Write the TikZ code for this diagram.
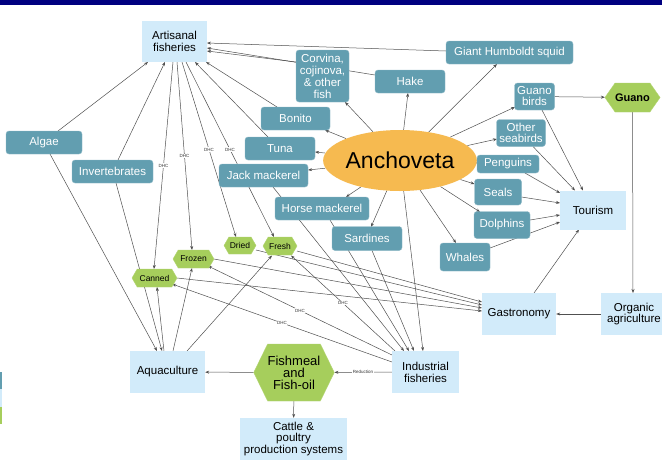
\documentclass[tikz,border=0pt]{standalone}
\usepackage{fontspec}
\setmainfont{Liberation Sans}
\usetikzlibrary{shapes.geometric,shapes.symbols,arrows.meta,calc}
\pgfdeclarelayer{bg}
\pgfsetlayers{bg,main}
\definecolor{teal1}{RGB}{98,158,176}
\definecolor{lblue}{RGB}{210,235,250}
\definecolor{lgreen}{RGB}{166,206,92}
\definecolor{orng}{RGB}{246,186,80}
\definecolor{navy1}{RGB}{0,0,128}
\definecolor{edgec}{RGB}{80,80,80}
\begin{document}
\begin{tikzpicture}[x=1pt,y=-1pt,
  tbox/.style={rectangle,rounded corners=3pt,fill=teal1,draw=teal1!70!white,line width=0.4pt,text=white,font=\fontsize{11.5}{12}\selectfont,align=center,inner sep=0pt},
  lbox/.style={rectangle,fill=lblue,text=black,font=\fontsize{11.5}{12}\selectfont,align=center,inner sep=0pt},
  hexa/.style={signal,signal to=west and east,signal pointer angle=120,fill=lgreen,draw=lgreen!85!white,inner sep=0pt,align=center},
  arr/.style={draw=edgec,line width=0.5pt,-{Stealth[length=4pt,width=3pt]}},
  lab/.style={fill=white,inner sep=0.6pt,font=\fontsize{4.5}{5}\selectfont,text=black!80},
]
\useasboundingbox (0,0) rectangle (662,469);
\fill[navy1] (0,0) rectangle (662,5);
% legend strips at the left edge
\fill[teal1] (0,372) rectangle (1.5,389);
\fill[lblue] (0,389) rectangle (1.5,407);
\fill[lgreen] (0,407) rectangle (1.5,424);

% nodes
\node[lbox,minimum width=65pt,minimum height=41pt] (art) at (174.5,41.5) {Artisanal\\fisheries};
\node[tbox,minimum width=127pt,minimum height=23pt] (squid) at (509.5,52.5) {Giant Humboldt squid};
\node[tbox,minimum width=53pt,minimum height=52pt] (corv) at (322.5,76) {Corvina,\\cojinova,\\\& other\\fish};
\node[tbox,minimum width=70pt,minimum height=23pt] (hake) at (410,81.5) {Hake};
\node[tbox,minimum width=40pt,minimum height=27pt,font=\fontsize{11.5}{11}\selectfont] (gbird) at (534.5,96.5) {Guano\\birds};
\node[hexa,minimum width=50pt,minimum height=29pt,signal pointer angle=110,font=\fontsize{11}{12}\selectfont\bfseries] (guano) at (632.5,97.5) {Guano};
\node[tbox,minimum width=49pt,minimum height=27pt,font=\fontsize{11.5}{11}\selectfont] (oseab) at (521,133) {Other\\seabirds};
\node[tbox,minimum width=69pt,minimum height=23pt] (bonito) at (295.5,118.5) {Bonito};
\node[tbox,minimum width=70pt,minimum height=23pt] (tuna) at (280,148.5) {Tuna};
\node[ellipse,fill=orng,minimum width=139pt,minimum height=61pt,inner sep=0pt,font=\fontsize{23}{26}\selectfont] (anch) at (400,160.5) {Anchoveta};
\node[tbox,minimum width=62pt,minimum height=18pt] (peng) at (508,164) {Penguins};
\node[tbox,minimum width=47pt,minimum height=26pt] (seals) at (498,192) {Seals};
\node[tbox,minimum width=56pt,minimum height=27pt] (dolph) at (502,225) {Dolphins};
\node[lbox,minimum width=66pt,minimum height=39pt] (tour) at (593,210) {Tourism};
\node[tbox,minimum width=50pt,minimum height=28pt] (whales) at (465,257) {Whales};
\node[tbox,minimum width=76pt,minimum height=23pt] (algae) at (44,142.5) {Algae};
\node[tbox,minimum width=81pt,minimum height=23pt] (invert) at (112.5,171.5) {Invertebrates};
\node[tbox,minimum width=89pt,minimum height=23pt] (jack) at (263.5,175.5) {Jack mackerel};
\node[tbox,minimum width=94pt,minimum height=23pt] (horse) at (322,208.5) {Horse mackerel};
\node[tbox,minimum width=70pt,minimum height=24pt] (sard) at (367,238.5) {Sardines};
\node[hexa,minimum width=32pt,minimum height=17pt,font=\fontsize{8.5}{9}\selectfont] (dried) at (240,245.5) {Dried};
\node[hexa,minimum width=34pt,minimum height=18pt,font=\fontsize{8.5}{9}\selectfont] (fresh) at (280,246) {Fresh};
\node[hexa,minimum width=41pt,minimum height=18pt,font=\fontsize{8.5}{9}\selectfont] (frozen) at (193.5,259) {Frozen};
\node[hexa,minimum width=45pt,minimum height=18pt,font=\fontsize{8.5}{9}\selectfont] (canned) at (154.5,278) {Canned};
\node[lbox,minimum width=75pt,minimum height=42pt] (aqua) at (167.5,372) {Aquaculture};
\node[hexa,minimum width=76pt,minimum height=57pt,signal pointer angle=128,font=\fontsize{13}{12}\selectfont] (fish) at (294,372.5) {Fishmeal\\and\\Fish-oil};
\node[lbox,minimum width=107pt,minimum height=42pt,font=\fontsize{11.5}{11.5}\selectfont] (cattle) at (293.5,439) {Cattle \&\\poultry\\production systems};
\node[lbox,minimum width=67pt,minimum height=42pt] (ind) at (425.5,372) {Industrial\\fisheries};
\node[lbox,minimum width=74pt,minimum height=42pt] (gastro) at (519,314) {Gastronomy};
\node[lbox,minimum width=66pt,minimum height=42pt,font=\fontsize{11.5}{11.5}\selectfont] (organ) at (634,314) {Organic\\agriculture};

\begin{pgfonlayer}{bg}
\fill[white] (0,0) rectangle (662,469);
% to artisanal fisheries
\draw[arr] ($(squid)+(-63.5,-1.5)$) -- ($(art)+(32.5,1.5)$);
\draw[arr] ($(hake)+(-35,-6.5)$) -- ($(art)+(32.5,6.5)$);
\draw[arr] ($(corv)+(-26.5,-14)$) -- ($(art)+(32.5,9.5)$);
\draw[arr] ($(bonito)+(-18.5,-11.5)$) -- ($(art)+(31.5,20.5)$);
\draw[arr] ($(tuna)+(-12,-11.5)$) -- ($(art)+(20.5,20.5)$);
\draw[arr] ($(algae)+(14,-11.5)$) -- ($(art)+(-26.5,20.5)$);
\draw[arr] ($(invert)+(5.5,-11.5)$) -- ($(art)+(-9.5,20.5)$);
% artisanal to products (DHC)
\draw[arr] ($(art)+(-1.5,20.5)$) -- node[lab,pos=0.5]{DHC} ($(canned)+(-0.5,-9)$);
\draw[arr] ($(art)+(2.5,20.5)$) -- node[lab,pos=0.5]{DHC} ($(frozen)+(-1.5,-9)$);
\draw[arr] ($(art)+(7.5,20.5)$) -- node[lab,pos=0.5]{DHC} ($(dried)+(-4,-8.5)$);
\draw[arr] ($(art)+(11.5,20.5)$) -- node[lab,pos=0.5]{DHC} ($(fresh)+(-6,-9)$);
% from anchoveta
\draw[arr] (anch) -- ($(corv)+(22.5,26)$);
\draw[arr] (anch) -- ($(hake)+(-2,11.5)$);
\draw[arr] (anch) -- ($(squid)+(-12.5,11.5)$);
\draw[arr] (anch) -- ($(gbird)+(-19.5,10.5)$);
\draw[arr] (anch) -- ($(oseab)+(-24,6)$);
\draw[arr] (anch) -- ($(peng)+(-31,-1)$);
\draw[arr] (anch) -- ($(seals)+(-23.5,-8)$);
\draw[arr] (anch) -- ($(dolph)+(-22,-13)$);
\draw[arr] (anch) -- ($(whales)+(-9,-14)$);
\draw[arr] (anch) -- ($(bonito)+(29.5,11.5)$);
\draw[arr] (anch) -- ($(tuna)+(35,3.5)$);
\draw[arr] (anch) -- ($(jack)+(44.5,-5.5)$);
\draw[arr] (anch) -- ($(horse)+(24,-11.5)$);
\draw[arr] (anch) -- ($(sard)+(4,-11.5)$);
\draw[arr] (anch) -- ($(ind)+(-2.5,-21)$);
% tourism
\draw[arr] ($(gbird)+(7.5,13.5)$) -- ($(tour)+(-10,-19.5)$);
\draw[arr] ($(oseab)+(12,13.5)$) -- ($(tour)+(-18,-19.5)$);
\draw[arr] ($(peng)+(17,9)$) -- ($(tour)+(-33,-17)$);
\draw[arr] ($(seals)+(23.5,5)$) -- ($(tour)+(-33,-7)$);
\draw[arr] ($(dolph)+(28,-5)$) -- ($(tour)+(-33,5)$);
\draw[arr] ($(whales)+(25,-9)$) -- ($(tour)+(-33,12)$);
\draw[arr] ($(gastro)+(15,-21)$) -- ($(tour)+(-14,19.5)$);
\draw[arr] (gbird) -- (guano);
\draw[arr] (guano) -- ($(organ)+(-1,-21)$);
\draw[arr] (organ) -- (gastro);
% gastronomy
\draw[arr] ($(fresh)+(17,5)$) -- ($(gastro)+(-37,-12)$);
\draw[arr] ($(dried)+(16,4.5)$) -- ($(gastro)+(-37,-9)$);
\draw[arr] ($(frozen)+(20.5,0)$) -- ($(gastro)+(-37,-6)$);
\draw[arr] ($(canned)+(22.5,0)$) -- ($(gastro)+(-37,-3)$);
% industrial
\draw[arr] ($(jack)+(9.5,11.5)$) -- ($(ind)+(-21.5,-21)$);
\draw[arr] ($(horse)+(8,11.5)$) -- ($(ind)+(-16.5,-21)$);
\draw[arr] ($(sard)+(5,12)$) -- ($(ind)+(-11.5,-21)$);
\draw[arr] ($(ind)+(-30.5,-21)$) -- node[lab,pos=0.5]{DHC} ($(fresh)+(11,9.5)$);
\draw[arr] ($(ind)+(-33.5,-17)$) -- node[lab,pos=0.5]{DHC} ($(frozen)+(14.5,7)$);
\draw[arr] ($(ind)+(-33.5,-10)$) -- node[lab,pos=0.5]{DHC} ($(canned)+(17.5,6)$);
\draw[arr] (ind) -- node[lab]{Reduction} (fish);
\draw[arr] (fish) -- (aqua);
\draw[arr] (fish) -- (cattle);
% aquaculture
\draw[arr] ($(algae)+(6,11.5)$) -- ($(aqua)+(-10.5,-21)$);
\draw[arr] ($(invert)+(3.5,11.5)$) -- ($(aqua)+(-5.5,-21)$);
\draw[arr] ($(aqua)+(-3.5,-21)$) -- ($(canned)+(2.5,9)$);
\draw[arr] ($(aqua)+(5.5,-21)$) -- ($(frozen)+(-1.5,9)$);
\draw[arr] ($(aqua)+(19.5,-21)$) -- ($(fresh)+(-8,9.5)$);
\end{pgfonlayer}
\end{tikzpicture}
\end{document}
